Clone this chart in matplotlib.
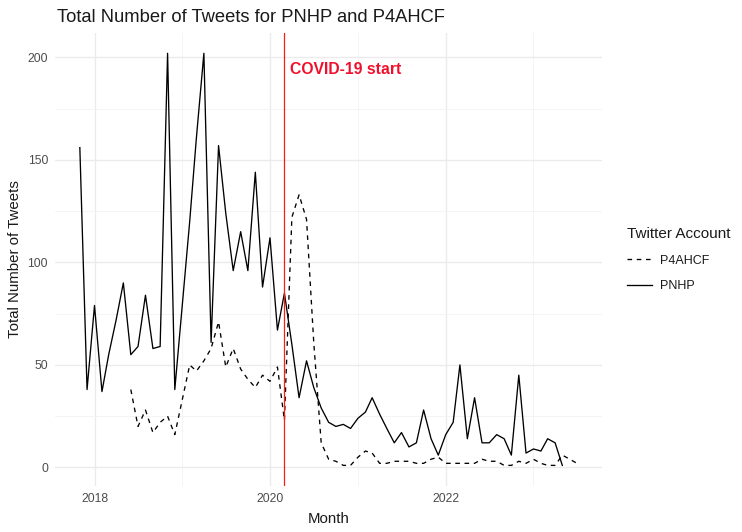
import datetime as dt

import matplotlib
matplotlib.use("Agg")
import matplotlib.pyplot as plt
import matplotlib.dates as mdates
import pandas as pd

plt.rcParams["font.family"] = ["Liberation Sans", "DejaVu Sans"]

# monthly tweet counts
pnhp_start = "2017-11-01"
pnhp_counts = [
    156, 38, 79, 37, 55, 72, 90, 55, 59, 84, 58, 59,      # Nov17 - Oct18
    202, 38, 79, 120, 161, 202, 61, 157, 124, 96, 115, 96,  # Nov18 - Oct19
    144, 88, 112, 67, 85, 60, 34, 52, 39, 29, 22, 20,     # Nov19 - Oct20
    21, 19, 24, 27, 34, 26, 19, 12, 17, 10, 12, 28,       # Nov20 - Oct21
    14, 6, 16, 22, 50, 14, 34, 12, 12, 16, 14, 6,         # Nov21 - Oct22
    45, 7, 9, 8, 14, 12, 1,                               # Nov22 - May23
]

p4ahcf_start = "2018-06-01"
p4ahcf_counts = [
    38, 20, 28, 17, 22, 25, 16,                           # Jun18 - Dec18
    33, 50, 47, 52, 58, 71, 49, 58, 48, 43, 39, 45,       # 2019
    42, 49, 23, 122, 133, 121, 61, 12, 4, 3, 1, 1,        # 2020
    5, 8, 7, 2, 2, 3, 3, 3, 2, 2, 4, 5,                   # 2021
    2, 2, 2, 2, 2, 4, 3, 3, 1, 1, 3, 2,                   # 2022
    4, 2, 1, 1, 6, 4, 2,                                  # Jan23 - Jul23
]

covid_start = dt.datetime(2020, 3, 1)
covid_label = "COVID-19 start"

pnhp_dates = pd.date_range(pnhp_start, periods=len(pnhp_counts), freq="MS")
p4ahcf_dates = pd.date_range(p4ahcf_start, periods=len(p4ahcf_counts), freq="MS")

fig = plt.figure(figsize=(7.42, 5.32), dpi=100)
ax = fig.add_axes([0.0741, 0.0865, 0.737, 0.852])

ax.plot(p4ahcf_dates, p4ahcf_counts, color="black", linewidth=0.95,
        linestyle=(0, (3.5, 3.5)), label="P4AHCF")
ax.plot(pnhp_dates, pnhp_counts, color="black", linewidth=0.95, label="PNHP")
ax.axvline(covid_start, color="#FF1A1A", linewidth=0.9)
ax.text(covid_start + dt.timedelta(days=22), 194, covid_label, color="#F0102E",
        fontsize=11.3, fontweight="bold", va="center", ha="left")

ax.xaxis.set_major_locator(mdates.YearLocator(2))
ax.xaxis.set_minor_locator(mdates.YearLocator(1))
ax.xaxis.set_major_formatter(mdates.DateFormatter("%Y"))
ax.set_yticks([0, 50, 100, 150, 200])
ax.set_yticks([25, 75, 125, 175], minor=True)
ax.margins(x=0.05, y=0.05)

ax.grid(True, which="major", color="#EBEBEB", linewidth=1.0)
ax.grid(True, which="minor", color="#F2F2F2", linewidth=0.6)
ax.set_axisbelow(True)
for spine in ax.spines.values():
    spine.set_visible(False)
ax.tick_params(which="both", length=0, labelsize=8.7, labelcolor="#4D4D4D", pad=5)

ax.set_xlabel("Month", fontsize=10.8, color="#1A1A1A", labelpad=5)
ax.set_ylabel("Total Number of Tweets", fontsize=10.8, color="#1A1A1A", labelpad=4)
ax.set_title("Total Number of Tweets for PNHP and P4AHCF", fontsize=13.2,
             color="#1A1A1A", loc="left", x=0.003, pad=8)

leg = fig.legend(loc="center left", bbox_to_anchor=(0.837, 0.512), frameon=False,
                 title="Twitter Account", fontsize=9.0, title_fontsize=11.0,
                 handlelength=2.0, handletextpad=0.6, labelspacing=1.1,
                 borderpad=0, alignment="left")
plt.setp(leg.get_title(), color="#1A1A1A")
for t in leg.get_texts():
    t.set_color("#1A1A1A")

fig.savefig("out.png", dpi=100)
